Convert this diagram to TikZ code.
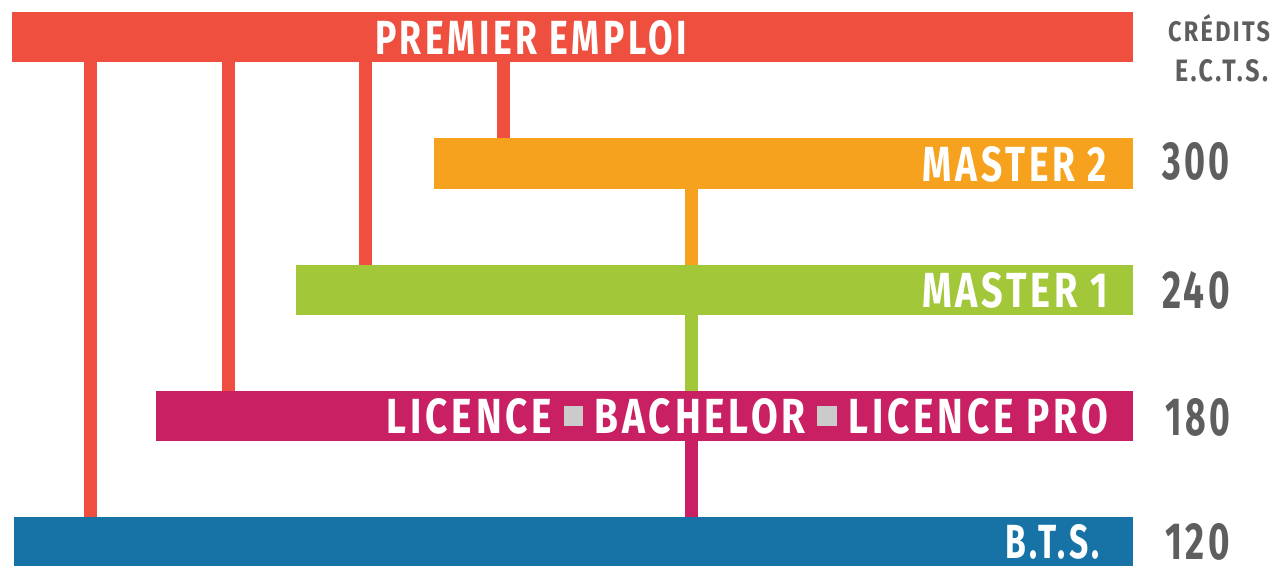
\documentclass[tikz,border=0pt]{standalone}
\usepackage{fontspec}
\setmainfont{Fira Sans}
\newfontfamily\lblfont{Fira Sans}[LetterSpace=10]
\usepackage{graphicx}
\definecolor{cred}{HTML}{EE4F3E}
\definecolor{corange}{HTML}{F6A21E}
\definecolor{cgreen}{HTML}{A2C83A}
\definecolor{cmag}{HTML}{C91F63}
\definecolor{cblue}{HTML}{1773A6}
\definecolor{numgray}{HTML}{5E5E5E}
\definecolor{sqgray}{HTML}{CBCBCB}
\newcommand{\mylbl}[3]{\resizebox{#1pt}{#2pt}{#3}}
\newcommand{\sqsep}{\hspace{0.3em}{\color{sqgray}\rule[0.15em]{0.5em}{0.4em}}\hspace{0.3em}}
\tikzset{
  bar/.style={draw=none, inner sep=0pt, outer sep=0pt, anchor=north west},
  link/.style={line width=13pt},
  lbl/.style={inner sep=0pt, outer sep=0pt, text=white, font=\lblfont\bfseries},
  num/.style={inner sep=0pt, outer sep=0pt, text=numgray, font=\lblfont\bfseries},
}
\begin{document}
\begin{tikzpicture}[x=1pt,y=-1pt]
\useasboundingbox[fill=white] (0,0) rectangle (1277,566);
% bars
\node[bar, fill=cred, minimum width=1121pt, minimum height=50pt] (pe) at (12,12) {};
\node[bar, fill=corange, minimum width=699pt, minimum height=51pt] (m2) at (434,138) {};
\node[bar, fill=cgreen, minimum width=837pt, minimum height=50pt] (m1) at (296,265) {};
\node[bar, fill=cmag, minimum width=977pt, minimum height=50pt] (lic) at (156,391) {};
\node[bar, fill=cblue, minimum width=1119pt, minimum height=49pt] (bts) at (14,517) {};
% connector columns
\coordinate (c1) at (90,0);
\coordinate (c2) at (228,0);
\coordinate (c3) at (365,0);
\coordinate (c4) at (503,0);
\coordinate (c5) at (691,0);
% connectors
\draw[link, cred] (c1 |- pe.south) -- (c1 |- bts.north);
\draw[link, cred] (c2 |- pe.south) -- (c2 |- lic.north);
\draw[link, cred] (c3 |- pe.south) -- (c3 |- m1.north);
\draw[link, cred] (c4 |- pe.south) -- (c4 |- m2.north);
\draw[link, corange] (c5 |- m2.south) -- (c5 |- m1.north);
\draw[link, cgreen] (c5 |- m1.south) -- (c5 |- lic.north);
\draw[link, cmag] (c5 |- lic.south) -- (c5 |- bts.north);
% bar labels
\node[lbl] (tpe) at (531,38) {\mylbl{312}{34}{PREMIER EMPLOI}};
\node[lbl, anchor=east] (tm2) at (1107,164.5) {\mylbl{184}{35}{MASTER 2}};
\node[lbl, anchor=east] (tm1) at (1108,290.5) {\mylbl{186}{35}{MASTER 1}};
\node[lbl, anchor=east] (tlic) at (1108,416.5) {\mylbl{721}{35}{LICENCE\sqsep BACHELOR\sqsep LICENCE PRO}};
\node[lbl, anchor=east] (tbts) at (1100,541.5) {\mylbl{95}{34}{B.T.S.}};
% credits column
\node[num] (hcr) at (1219,28.5) {\mylbl{102}{27}{CRÉDITS}};
\node[num] (hects) at (1221.5,71) {\mylbl{93}{22}{E.C.T.S.}};
\node[num, anchor=west] (n300) at (1162,161.5) {\mylbl{68}{37}{300}};
\node[num, anchor=west] (n240) at (1162,290) {\mylbl{68}{37}{240}};
\node[num, anchor=west] (n180) at (1165,417) {\mylbl{65}{37}{180}};
\node[num, anchor=west] (n120) at (1165,542) {\mylbl{65}{36}{120}};
\end{tikzpicture}
\end{document}
